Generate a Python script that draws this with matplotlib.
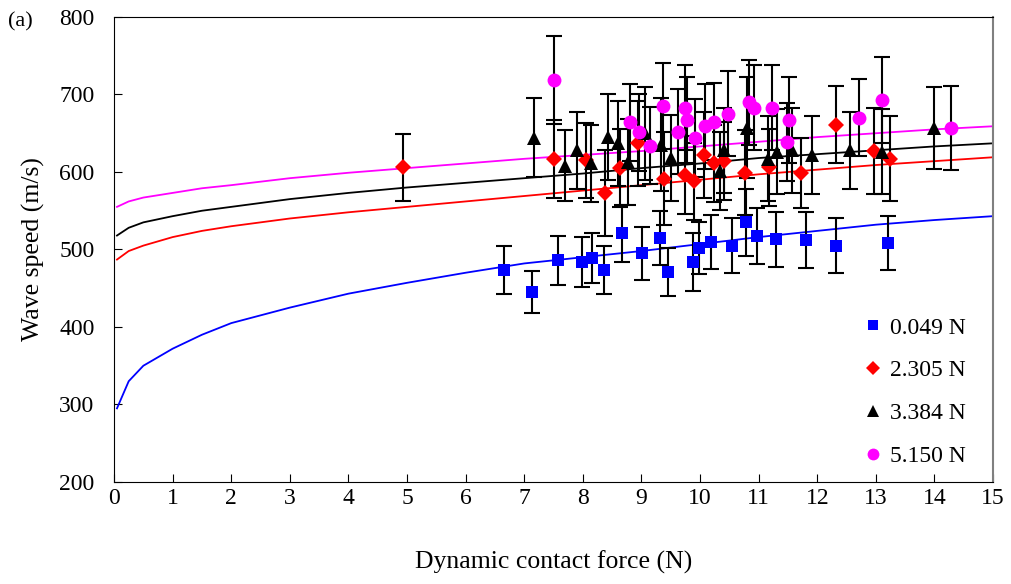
import matplotlib.pyplot as plt

plt.rcParams['font.family'] = ['Liberation Serif', 'DejaVu Serif']

# fitted curves
fit_x = [0.05, 0.25, 0.5, 1, 1.5, 2, 3, 4, 5, 6, 7, 8, 9, 10, 11, 12, 13, 14, 15]
fit_blue = [295, 330, 350, 372, 390, 405, 425, 443, 457, 470, 482, 490, 498, 507, 516, 524, 532, 538, 543]
fit_red = [487, 498, 505, 516, 524, 530, 540, 548, 555, 562, 569, 576, 583, 590, 597, 603, 609, 614, 619]
fit_black = [518, 528, 535, 543, 550, 555, 565, 573, 580, 586, 592, 598, 605, 611, 618, 623, 628, 633, 637]
fit_magenta = [555, 562, 567, 573, 579, 583, 592, 599, 605, 611, 617, 622, 627, 633, 639, 645, 650, 655, 659]

# 0.049 N
blue_x = [6.66, 7.13, 7.58, 7.99, 8.16, 8.36, 8.67, 9.01, 9.32, 9.45, 9.88, 9.98, 10.19, 10.55, 10.78, 10.97, 11.3, 11.81, 12.32, 13.2]
blue_y = [473, 445, 486, 484, 489, 473, 521, 495, 515, 471, 484, 502, 510, 505, 535, 517, 513, 512, 505, 508]
blue_err = [31, 27, 32, 32, 32, 31, 37, 34, 35, 31, 37, 34, 35, 35, 43, 36, 36, 36, 35, 35]

# 2.305 N
red_x = [4.93, 7.51, 8.05, 8.38, 8.64, 8.94, 9.39, 9.74, 9.9, 10.07, 10.24, 10.41, 10.77, 11.18, 11.72, 12.32, 12.96, 13.24]
red_y = [606, 617, 615, 573, 605, 637, 591, 596, 588, 622, 611, 614, 599, 606, 599, 661, 627, 617]
red_err = [43, 50, 48, 55, 50, 55, 60, 50, 50, 55, 50, 50, 55, 50, 45, 50, 55, 55]

# 3.384 N
black_x = [7.17, 7.7, 7.9, 8.14, 8.43, 8.6, 8.77, 9.06, 9.33, 9.5, 10.34, 10.41, 10.8, 11.16, 11.31, 11.57, 11.91, 12.56, 13.1, 13.99]
black_y = [644, 608, 628, 611, 645, 637, 613, 650, 635, 618, 601, 628, 657, 617, 626, 628, 622, 628, 626, 657]
black_err = [51, 46, 50, 50, 55, 55, 55, 60, 60, 55, 50, 55, 65, 55, 55, 55, 50, 50, 55, 53]

# 5.150 N
mag_x = [7.51, 8.81, 8.96, 9.15, 9.37, 9.62, 9.74, 9.78, 9.91, 10.09, 10.23, 10.48, 10.84, 10.92, 11.23, 11.49, 11.52, 12.71, 13.11, 14.28]
mag_y = [719, 664, 651, 634, 685, 652, 683, 667, 644, 659, 665, 675, 690, 683, 683, 639, 667, 670, 693, 657]
mag_err = [57, 50, 50, 50, 55, 55, 55, 55, 50, 55, 50, 55, 55, 55, 55, 50, 55, 50, 55, 54]

fig = plt.figure(figsize=(10.12, 5.84), dpi=100)
ax = fig.add_axes([0.1127, 0.1747, 0.8686, 0.7962])

ax.plot(fit_x, fit_blue, color='#0000ff', lw=1.3, zorder=2)
ax.plot(fit_x, fit_red, color='#ff0000', lw=1.3, zorder=2)
ax.plot(fit_x, fit_black, color='black', lw=1.3, zorder=2)
ax.plot(fit_x, fit_magenta, color='#ff00ff', lw=1.3, zorder=2)

series = [
    (blue_x, blue_y, blue_err, 's', '#0000ff', 9, '0.049 N'),
    (red_x, red_y, red_err, 'D', '#ff0000', 8, '2.305 N'),
    (black_x, black_y, black_err, '^', 'black', 10, '3.384 N'),
    (mag_x, mag_y, mag_err, 'o', '#ff00ff', 10, '5.150 N'),
]
for x, y, err, mk, col, ms, lab in series:
    ax.errorbar(x, y, yerr=err, fmt='none', ecolor='black', elinewidth=1.5,
                capsize=5.5, capthick=1.5, zorder=3)
for x, y, err, mk, col, ms, lab in series:
    ax.plot(x, y, ls='none', marker=mk, color=col, markersize=ms,
            markeredgewidth=0, label=lab, zorder=4)

ax.set_xlim(0, 15)
ax.set_ylim(200, 800)
ax.set_xticks(range(0, 16))
ax.set_yticks(range(200, 801, 100))
ax.tick_params(direction='in', length=6, labelsize=17)
ax.tick_params(axis='x', pad=4)
ax.tick_params(axis='y', pad=14)
ax.spines['right'].set_color('#808080')
ax.spines['right'].set_linewidth(1.5)
ax.set_xlabel('Dynamic contact force (N)', fontsize=18.5, labelpad=30)
ax.set_ylabel('Wave speed (m/s)', fontsize=18.5, labelpad=10)
fig.text(0.008, 0.955, '(a)', fontsize=16)

ax.legend(loc='lower right', frameon=False, fontsize=17, markerscale=0.85,
          handlelength=0.8, handletextpad=0.3, labelspacing=0.9,
          borderaxespad=0.2, bbox_to_anchor=(0.985, 0.002))

fig.savefig('out.png', dpi=100)
